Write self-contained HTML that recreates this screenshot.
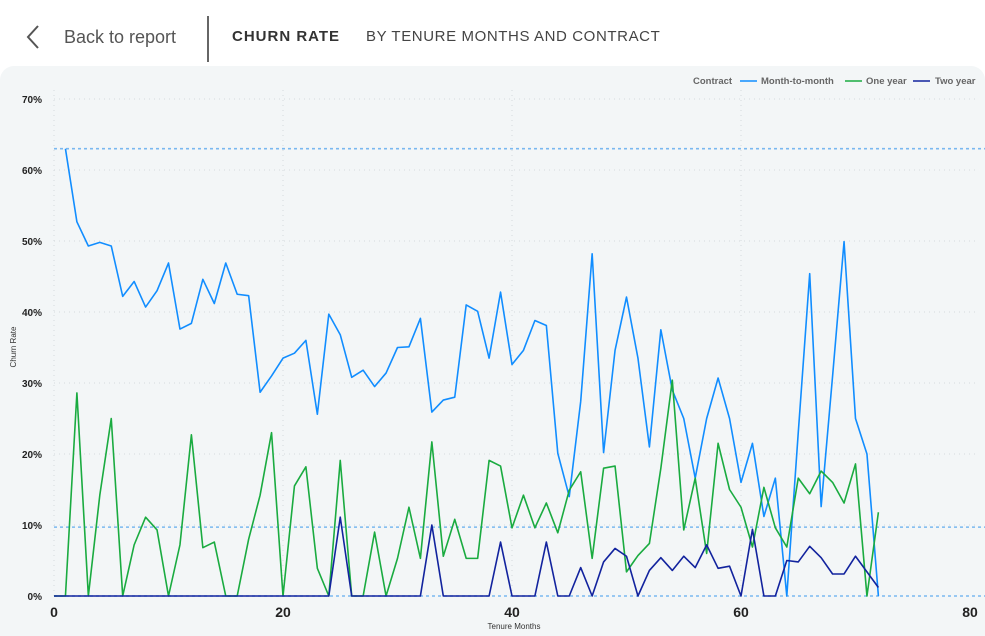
<!DOCTYPE html>
<html><head><meta charset="utf-8"><style>
body{margin:0;width:985px;height:636px;background:#fff;font-family:"Liberation Sans",sans-serif;overflow:hidden;position:relative}
.hdr{position:absolute;top:0;left:0;width:985px;height:66px}
.back{position:absolute;left:26px;top:22px;height:30px;display:flex;align-items:center;color:#555;font-size:18px}
.back svg{margin-right:24px}
.div{position:absolute;left:207px;top:16px;width:2px;height:46px;background:#666}
.t1{position:absolute;left:232px;top:28px;font-size:15px;font-weight:bold;letter-spacing:1px;color:#333}
.t2{position:absolute;left:366px;top:28px;font-size:15px;letter-spacing:0.6px;color:#444}
.panel{position:absolute;left:0;top:66px;width:985px;height:570px;background:#f3f6f7;border-radius:14px 14px 0 0}
</style></head><body>
<div class="hdr">
<div class="back"><svg width="14" height="26" viewBox="0 0 14 26"><path d="M12 2 L2 13 L12 24" stroke="#555" stroke-width="2" fill="none"/></svg><span>Back to report</span></div>
<div class="div"></div>
<div class="t1">CHURN RATE</div>
<div class="t2">BY TENURE MONTHS AND CONTRACT</div>
</div>
<div class="panel"></div>
<svg id="chart" width="985" height="636" style="position:absolute;left:0;top:0"></svg>
<script>
const mtmMonths=[1,2,3,4,5,6,7,8,9,10,11,12,13,14,15,16,17,18,19,20,21,22,23,24,25,26,27,28,29,30,31,32,33,34,35,36,37,38,39,40,41,42,43,44,45,46,47,48,49,50,51,52,53,54,55,56,57,58,59,60,61,62,63,64,65,66,67,68,69,70,71,72];
const mtmValues=[63,52.7,49.3,49.8,49.3,42.2,44.3,40.7,43,46.9,37.6,38.4,44.6,41.2,46.9,42.5,42.3,28.7,31,33.5,34.2,36,25.6,39.7,36.8,30.8,31.8,29.5,31.4,35,35.1,39.1,25.9,27.6,28,41,40.1,33.5,42.8,32.6,34.6,38.8,38.1,20.1,14,27.4,48.2,20.2,34.6,42.1,33.5,21,37.5,29,25,16.6,25,30.7,25,16,21.5,11.2,16.6,0,23,45.4,12.6,31,49.9,25,20,0];
const oneMonths=[0,1,2,3,4,5,6,7,8,9,10,11,12,13,14,15,16,17,18,19,20,21,22,23,24,25,26,27,28,29,30,31,32,33,34,35,36,37,38,39,40,41,42,43,44,45,46,47,48,49,50,51,52,53,54,55,56,57,58,59,60,61,62,63,64,65,66,67,68,69,70,71,72];
const oneValues=[0,0,28.6,0,14.2,25,0,7.2,11.1,9.3,0,7.2,22.7,6.8,7.6,0,0,8,14.2,23,0,15.5,18.2,3.9,0,19.1,0,0,9,0,5.3,12.5,5.3,21.7,5.6,10.8,5.3,5.3,19.1,18.3,9.6,14.2,9.6,13.1,8.9,14.9,17.5,5.3,18,18.3,3.4,5.7,7.4,18,30.4,9.3,16.6,6,21.5,15,12.5,6.9,15.3,9.6,6.9,16.6,14.4,17.6,16,13.1,18.6,0,11.8];
const twoMonths=oneMonths;
const twoValues=[0,0,0,0,0,0,0,0,0,0,0,0,0,0,0,0,0,0,0,0,0,0,0,0,0,11.1,0,0,0,0,0,0,0,10,0,0,0,0,0,7.6,0,0,0,7.6,0,0,4,0,4.8,6.7,5.6,0,3.6,5.4,3.6,5.6,4,7.2,3.9,4.2,0,9.4,0,0,5,4.8,7,5.4,3.1,3.1,5.6,3.4,1.2];
const xTicks=[0,20,40,60,80];
const yTicks=[0,10,20,30,40,50,60,70];
const refLines=[63,9.7];
const NS='http://www.w3.org/2000/svg';
const svg=document.getElementById('chart');
const X=v=>54+v*(970-54)/80;
const Y=v=>596-v*(596-99)/70;
function mk(tag,attrs,parent){const e=document.createElementNS(NS,tag);for(const k in attrs)e.setAttribute(k,attrs[k]);(parent||svg).appendChild(e);return e;}
yTicks.forEach(t=>{
  if(t>0){const g=mk('line',{x1:54,x2:975,y1:Y(t),y2:Y(t),stroke:'#d6dadc','stroke-dasharray':'1 4'});
  
  }
  const l=mk('text',{x:42,y:Y(t)+4,'text-anchor':'end','font-size':'10','font-weight':'bold','fill':'#222'});l.textContent=t+'%';
  
  
});
xTicks.forEach(t=>{
  if(t>0&&t<80){const g=mk('line',{x1:X(t),x2:X(t),y1:90,y2:596,stroke:'#d6dadc','stroke-dasharray':'1 4'});
  
  }
  const l=mk('text',{x:X(t),y:617,'text-anchor':'middle','font-size':'14','font-weight':'bold','fill':'#222'});l.textContent=t;
  
  
});
const vg=mk('line',{x1:54,x2:54,y1:90,y2:596,stroke:'#d6dadc','stroke-dasharray':'1 4'});


refLines.concat([0]).forEach(r=>{const l=mk('line',{x1:54,x2:985,y1:Y(r),y2:Y(r),stroke:'#7ab8f0','stroke-width':'1.6','stroke-dasharray':'3 3'});
  
  });
function series(ms,vs,color,name){const p=mk('polyline',{points:ms.map((m,i)=>X(m)+','+Y(vs[i])).join(' '),fill:'none',stroke:color,'stroke-width':'1.6','stroke-linejoin':'round'});
  
  }
series(mtmMonths,mtmValues,'#118dff','series-month-to-month');
series(oneMonths,oneValues,'#1aab40','series-one-year');
series(twoMonths,twoValues,'#12239e','series-two-year');
const xt=mk('text',{x:514,y:629,'text-anchor':'middle','font-size':'8','fill':'#333'});xt.textContent='Tenure Months';


const yt=mk('text',{x:0,y:0,'text-anchor':'middle','font-size':'8','fill':'#333',transform:'translate(16,347) rotate(-90)'});yt.textContent='Churn Rate';


const lg=mk('g',{});


const lt=mk('text',{x:693,y:84,'font-size':'9.5','font-weight':'bold','fill':'#666'},lg);lt.textContent='Contract';
const items=[['Month-to-month','#118dff',740,761],['One year','#1aab40',845,866],['Two year','#12239e',913,935]];
items.forEach(it=>{const ln=mk('line',{x1:it[2],x2:it[2]+17,y1:81,y2:81,stroke:it[1],'stroke-width':'1.6'},lg);
  
  
  const t=mk('text',{x:it[3],y:84,'font-size':'9.5','font-weight':'bold','fill':'#666'},lg);t.textContent=it[0];
  
  });
</script>
</body></html>
